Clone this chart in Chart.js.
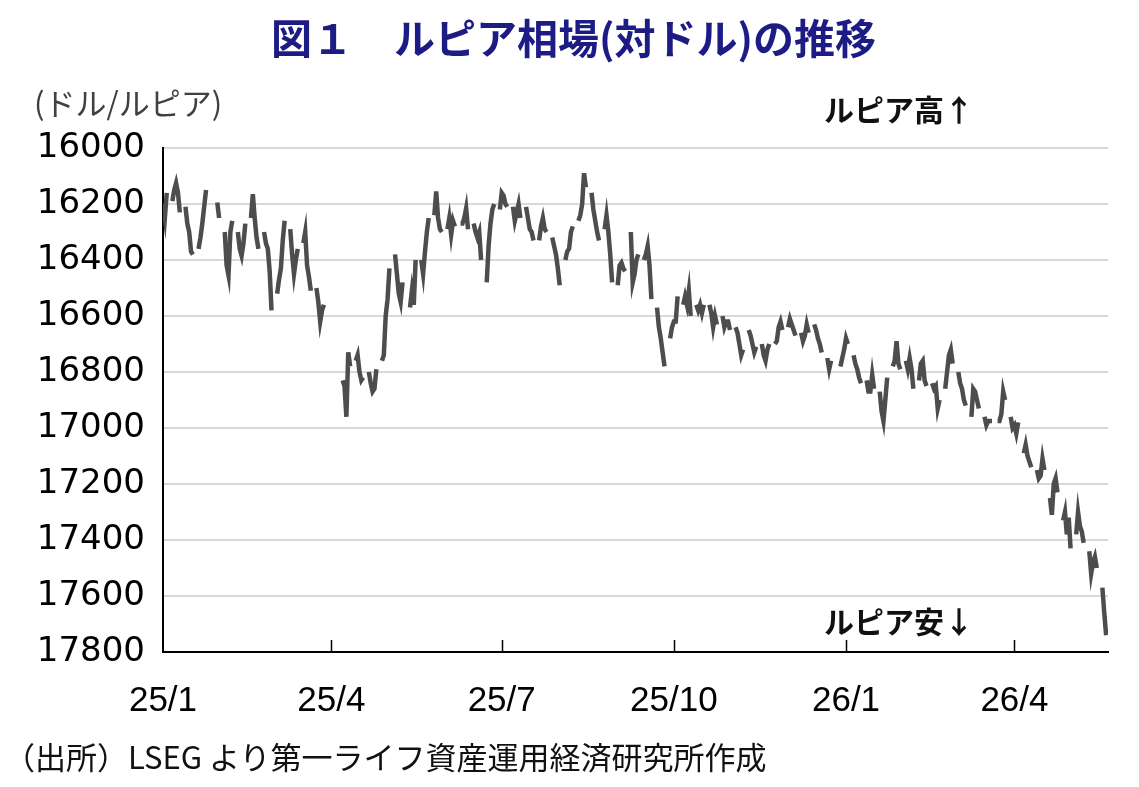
<!DOCTYPE html>
<html lang="ja">
<head>
<meta charset="utf-8">
<title>ルピア相場(対ドル)の推移</title>
<script src="https://cdn.jsdelivr.net/npm/chart.js@4.4.1/dist/chart.umd.min.js"></script>
<style>
  html, body { margin: 0; padding: 0; background: #fff; }
  #wrap { position: relative; width: 1139px; height: 787px; overflow: hidden;
          font-family: "Noto Sans CJK JP", sans-serif; }
  #chart { position: absolute; left: 0; top: 0; }
  .txt { position: absolute; white-space: nowrap; line-height: 1; }
  #title { left: 4px; width: 1139px; text-align: center; top: 16px;
           font-size: 41px; font-weight: bold; color: #1c1c84; }
  #unit { left: 34px; top: 86px; font-size: 31px; color: #404040; }
  #high { left: 824px; top: 93px; font-size: 30px; font-weight: bold; color: #111; }
  #low  { left: 824px; top: 605px; font-size: 30px; font-weight: bold; color: #111; }
  #note { left: 4px; top: 740px; font-size: 31px; color: #111; }
</style>
</head>
<body>
<div id="wrap">
  <canvas id="chart" width="1139" height="787"></canvas>
  <div class="txt" id="title">図１　ルピア相場(対ドル)の推移</div>
  <div class="txt" id="unit">(ドル/ルピア)</div>
  <div class="txt" id="high">ルピア高↑</div>
  <div class="txt" id="low">ルピア安↓</div>
  <div class="txt" id="note">（出所）LSEG より第一ライフ資産運用経済研究所作成</div>
</div>
<script>
// ---- data: USD/IDR, one row per week (Mon..Fri), null = no quote ----
const firstMonday = '2024-12-30';
const originDate = '2025-01-01';

const q1_2025 = [
  [null, null, 16200, 16250, 16160],
  [16190, 16150, 16125, 16160, 16230],
  [16210, 16270, 16300, 16370, 16380],
  [16360, 16320, 16270, 16210, 16150],
  [null, null, null, 16195, 16250],
  [16300, 16420, 16455, 16300, 16260],
  [16300, 16360, 16385, 16340, 16270],
  [16250, 16165, 16250, 16320, 16360],
  [16300, 16340, 16360, 16440, 16580],
  [16520, 16470, 16430, 16330, 16260],
  [16290, 16380, 16450, 16400, 16360],
  [16340, 16300, 16420, 16460, 16510],
  [16500, 16550, 16620, 16580, 16560],
  [null, null, null, null, null]
];
const q2_2025 = [
  [16830, 16850, 16960, 16730, 16780],
  [16760, 16740, 16800, 16830, 16820],
  [16800, 16840, 16870, 16860, 16790],
  [16760, 16740, 16600, 16540, 16430],
  [16380, 16450, 16520, 16550, 16480],
  [null, 16570, 16510, 16560, 16400],
  [16400, 16450, 16370, 16300, 16250],
  [16240, 16155, 16250, 16290, 16300],
  [16290, 16250, 16310, 16260, 16280],
  [16270, 16270, 16250, 16215, 16290],
  [16270, 16300, 16320, 16300, 16400],
  [16480, 16350, 16270, 16220, 16200]
];
const q3_2025 = [
  [16220, 16160, 16170, 16200, 16210],
  [16210, 16260, 16230, 16200, 16250],
  [16210, 16250, 16290, 16300, 16330],
  [16330, 16280, 16250, 16290, 16300],
  [16320, 16350, 16380, 16430, 16490],
  [16400, 16370, 16360, 16300, 16280],
  [16260, 16240, 16200, 16090, 16140],
  [16160, 16220, 16260, 16300, 16330],
  [16290, 16240, 16300, 16380, 16480],
  [16490, 16420, 16410, 16430, 16440],
  [16300, 16480, 16450, 16400, 16380],
  [16400, 16380, 16350, 16420, 16540],
  [16570, 16640, 16680, 16730, 16780]
];
const q4_2025 = [
  [16680, 16640, 16620, 16620, 16530],
  [16560, 16530, 16560, 16510, 16600],
  [16560, 16580, 16560, 16590, 16560],
  [16560, 16590, 16640, 16600, 16630],
  [16600, 16640, 16620, 16620, 16650],
  [16640, 16660, 16700, 16740, 16720],
  [16650, 16670, 16700, 16730, 16710],
  [16700, 16740, 16760, 16720, 16700],
  [16700, 16690, 16640, 16620, 16650],
  [16640, 16610, 16630, 16650, 16670],
  [16660, 16690, 16670, 16630, 16660],
  [16630, 16650, 16680, 16700, 16730],
  [16750, 16790, 16760, null, null],
  [16780, 16750, 16720, 16680, 16700]
];
const q1_2026 = [
  [16740, 16770, 16790, 16820, 16840],
  [16830, 16870, 16870, 16810, 16860],
  [16870, 16940, 16975, 16900, 16820],
  [16780, 16760, 16690, 16770, 16790],
  [16760, 16790, 16750, 16790, 16860],
  [16830, 16770, 16760, 16830, 16850],
  [16840, 16860, 16850, 16930, 16900],
  [16860, 16800, 16740, 16720, 16770],
  [16800, 16840, 16860, 16900, 16920],
  [16960, 16860, 16870, 16900, 16930],
  [16960, 16990, 16975, 16975, 16975],
  [16975, 16975, 16950, 16870, 16900],
  [16960, 17000, 16990, 17020, 16980]
];
const q2_2026 = [
  [17090, 17060, 17100, 17120, 17140],
  [17150, 17180, 17170, 17110, 17150],
  [17250, 17310, 17200, 17180, 17230],
  [17330, 17300, 17380, 17320, 17430],
  [17380, 17300, 17350, 17370, 17410],
  [17440, 17520, 17480, 17460, 17500],
  [17570, 17660, 17740]
];

const tickDates = ['2025-01-01', '2025-04-01', '2025-07-01', '2025-10-01', '2026-01-01', '2026-04-01'];
const tickLabels = ['25/1', '25/4', '25/7', '25/10', '26/1', '26/4'];
const yTicks = [16000, 16200, 16400, 16600, 16800, 17000, 17200, 17400, 17600, 17800];
const lastDate = '2026-05-21';

// ---- helpers ----
const DAY = 86400000;
function dayIndex(s) {
  return Math.round((Date.parse(s) - Date.parse(originDate)) / DAY);
}

const weeks = [].concat(q1_2025, q2_2025, q3_2025, q4_2025, q1_2026, q2_2026);
const start = dayIndex(firstMonday);
const points = [];
weeks.forEach(function(w, i) {
  w.forEach(function(v, j) {
    points.push({ x: start + i * 7 + j, y: v });
  });
  points.push({ x: start + i * 7 + 5, y: null }); // weekend break
});

const tickPos = tickDates.map(dayIndex);

// inward tick marks on the date axis
const innerTicks = {
  id: 'innerTicks',
  afterDraw(chart) {
    const xs = chart.scales.x, ctx = chart.ctx;
    const bottom = chart.chartArea.bottom;
    ctx.save();
    ctx.strokeStyle = '#000';
    ctx.lineWidth = 1.5;
    tickPos.slice(1).forEach(function(t) {
      const px = Math.round(xs.getPixelForValue(t)) + 0.5;
      ctx.beginPath();
      ctx.moveTo(px, bottom);
      ctx.lineTo(px, bottom - 12);
      ctx.stroke();
    });
    ctx.restore();
  }
};

new Chart(document.getElementById('chart').getContext('2d'), {
  type: 'line',
  data: {
    datasets: [{
      label: 'USD/IDR',
      data: points,
      borderColor: '#4d4d4d',
      borderWidth: 4.5,
      pointRadius: 0,
      tension: 0,
      spanGaps: false
    }]
  },
  options: {
    responsive: false,
    animation: false,
    events: [],
    layout: { padding: { left: 0, top: 148, right: 31, bottom: 65 } },
    plugins: { legend: { display: false }, tooltip: { enabled: false } },
    scales: {
      x: {
        type: 'linear',
        min: 0,
        max: dayIndex(lastDate),
        afterBuildTicks(scale) {
          scale.ticks = tickPos.map(function(v) { return { value: v }; });
        },
        afterFit(scale) { scale.height = 70; },
        ticks: {
          autoSkip: false,
          maxRotation: 0,
          padding: 28,
          color: '#000',
          font: { family: 'Liberation Sans', size: 35 },
          callback(value) {
            const i = tickPos.indexOf(value);
            return i >= 0 ? tickLabels[i] : '';
          }
        },
        grid: { display: false, drawTicks: false },
        border: { display: true, color: '#000', width: 2 }
      },
      y: {
        reverse: true,
        min: 16000,
        max: 17800,
        afterBuildTicks(scale) {
          scale.ticks = yTicks.map(function(v) { return { value: v }; });
        },
        afterFit(scale) { scale.width = 163; },
        ticks: {
          padding: 18,
          color: '#000',
          font: { family: 'DejaVu Sans', size: 34 },
          callback(value) { return String(value); }
        },
        grid: { color: '#d9d9d9', lineWidth: 2, drawTicks: false },
        border: { display: true, color: '#000', width: 2 }
      }
    }
  },
  plugins: [innerTicks]
});
</script>
</body>
</html>
